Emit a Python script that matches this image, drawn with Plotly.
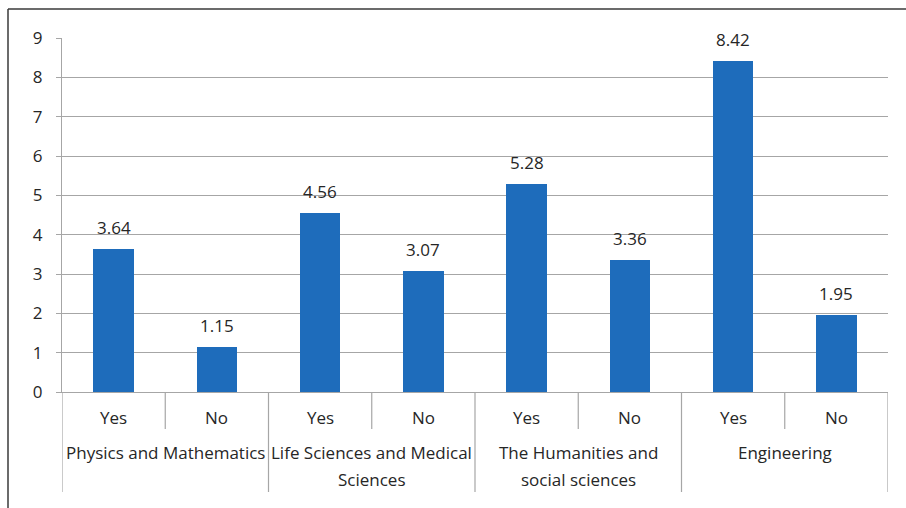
import plotly.graph_objects as go

groups = ["Physics and Mathematics", "Life Sciences and Medical\nSciences",
          "The Humanities and\nsocial sciences", "Engineering"]
answers = ["Yes", "No"]
values = [3.64, 1.15, 4.56, 3.07, 5.28, 3.36, 8.42, 1.95]
y_ticks = list(range(0, 10))

W, H = 906, 508
L, R, T, B = 62, 18, 38, 116
pw, ph = W - L - R, H - T - B

def py(pix):  # pixel y -> paper y
    return (H - B - pix) / ph

def px(pix):
    return (pix - L) / pw

xs = list(range(len(values)))
sub_labels = [answers[i % 2] for i in xs]

FONT = "Open Sans"
FS = 17
TXT = "#262626"
GRID = "#A6A6A6"

fig = go.Figure()
fig.add_trace(go.Bar(
    x=xs, y=values, marker=dict(color="#1E6CBB", line=dict(width=0)),
    width=0.39, hoverinfo="skip",
))

shapes = []
# chart border (top and left visible)
shapes.append(dict(type="line", xref="paper", yref="paper",
                   x0=px(8), x1=px(906), y0=py(9), y1=py(9),
                   line=dict(color="#3a3a3a", width=1.5)))
shapes.append(dict(type="line", xref="paper", yref="paper",
                   x0=px(8), x1=px(8), y0=py(9), y1=py(520),
                   line=dict(color="#3a3a3a", width=1.5)))
# category dividers
for i in range(len(values) + 1):
    xpos = i - 0.5
    long = (i % 2 == 0)
    shapes.append(dict(type="line", xref="x", yref="paper", x0=xpos, x1=xpos,
                       y0=0, y1=py(492) if long else py(429),
                       line=dict(color=GRID, width=1.2)))

annotations = []
# data labels
for i, v in enumerate(values):
    annotations.append(dict(x=i, y=v, xref="x", yref="y", text=f"{v:.2f}",
                            showarrow=False, font=dict(family=FONT, size=FS, color=TXT),
                            xanchor="center", yanchor="bottom", yshift=8))
for i, lab in enumerate(sub_labels):
    annotations.append(dict(x=i, y=py(417), xref="x", yref="paper", text=lab,
                            showarrow=False, font=dict(family=FONT, size=FS, color=TXT),
                            xanchor="center", yanchor="middle"))
for g, name in enumerate(groups):
    for k, line in enumerate(name.split("\n")):
        annotations.append(dict(x=2 * g + 0.5, y=py(453 + 26 * k), xref="x", yref="paper",
                                text=line, showarrow=False,
                                font=dict(family=FONT, size=FS, color=TXT),
                                xanchor="center", yanchor="middle"))

fig.update_layout(
    width=W, height=H, margin=dict(l=L, r=R, t=T, b=B),
    paper_bgcolor="white", plot_bgcolor="white", showlegend=False,
    bargap=0, shapes=shapes, annotations=annotations,
    xaxis=dict(range=[-0.5, len(values) - 0.5], showticklabels=False, ticks="",
               showgrid=False, zeroline=False, showline=True, linecolor=GRID,
               linewidth=1.2, fixedrange=True),
    yaxis=dict(range=[0, 9], tickvals=y_ticks, showgrid=True, gridcolor=GRID,
               gridwidth=1.2, zeroline=False, showline=True, linecolor=GRID,
               linewidth=1.2, ticks="outside", ticklen=5, tickcolor=GRID,
               tickfont=dict(family=FONT, size=FS, color=TXT),
               ticklabelstandoff=10, fixedrange=True),
)

fig.write_html("out.html")
